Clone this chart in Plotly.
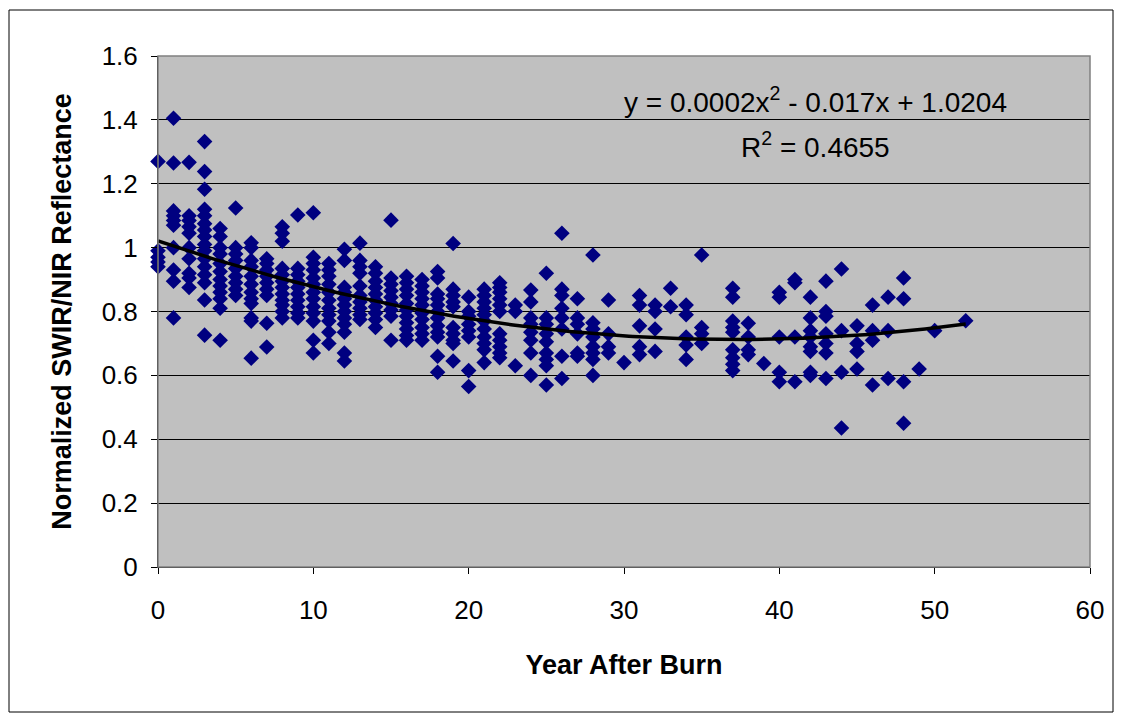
import numpy as np
import plotly.graph_objects as go

# Observations: year after burn -> normalized SWIR/NIR reflectance values
obs = {
    0: [1.27, 0.99, 0.97, 0.955, 0.94],
    1: [1.405, 1.265, 1.115, 1.10, 1.085, 1.07, 1.0, 0.93, 0.895, 0.78],
    2: [1.267, 1.10, 1.085, 1.065, 1.045, 1.0, 0.965, 0.92, 0.905, 0.875],
    3: [1.332, 1.238, 1.183, 1.12, 1.10, 1.075, 1.055, 1.035, 1.01, 0.99, 0.965, 0.94, 0.915, 0.89, 0.836, 0.726],
    4: [1.06, 1.035, 1.0, 0.98, 0.95, 0.925, 0.90, 0.88, 0.86, 0.84, 0.81, 0.71],
    5: [1.124, 1.0, 0.98, 0.96, 0.935, 0.91, 0.89, 0.87, 0.85],
    6: [1.015, 1.0, 0.96, 0.94, 0.91, 0.885, 0.86, 0.84, 0.825, 0.78, 0.77, 0.654],
    7: [0.965, 0.95, 0.93, 0.91, 0.89, 0.87, 0.85, 0.763, 0.689],
    8: [1.065, 1.045, 1.02, 0.935, 0.915, 0.895, 0.875, 0.855, 0.835, 0.82, 0.80, 0.78],
    9: [1.102, 0.935, 0.915, 0.895, 0.875, 0.855, 0.835, 0.815, 0.795, 0.78],
    10: [1.109, 0.97, 0.95, 0.93, 0.905, 0.885, 0.86, 0.84, 0.815, 0.795, 0.77, 0.71, 0.67],
    11: [0.95, 0.93, 0.91, 0.885, 0.86, 0.835, 0.81, 0.79, 0.77, 0.735, 0.70],
    12: [0.995, 0.96, 0.876, 0.86, 0.84, 0.82, 0.80, 0.78, 0.76, 0.735, 0.67, 0.645],
    13: [1.014, 0.96, 0.94, 0.92, 0.88, 0.85, 0.83, 0.81, 0.79, 0.775],
    14: [0.94, 0.92, 0.895, 0.875, 0.855, 0.835, 0.815, 0.795, 0.775, 0.75],
    15: [1.086, 0.905, 0.885, 0.865, 0.845, 0.825, 0.805, 0.785, 0.71],
    16: [0.91, 0.89, 0.87, 0.85, 0.825, 0.805, 0.785, 0.765, 0.745, 0.725, 0.71],
    17: [0.90, 0.88, 0.86, 0.84, 0.82, 0.795, 0.775, 0.75, 0.73, 0.71],
    18: [0.925, 0.905, 0.855, 0.84, 0.82, 0.80, 0.78, 0.755, 0.735, 0.72, 0.66, 0.61],
    19: [1.013, 0.87, 0.85, 0.83, 0.815, 0.75, 0.73, 0.71, 0.70, 0.645],
    20: [0.845, 0.80, 0.785, 0.76, 0.74, 0.72, 0.615, 0.565],
    21: [0.87, 0.85, 0.83, 0.81, 0.79, 0.77, 0.745, 0.72, 0.70, 0.68, 0.64],
    22: [0.89, 0.875, 0.86, 0.84, 0.82, 0.80, 0.73, 0.71, 0.69, 0.67, 0.655],
    23: [0.82, 0.80, 0.63],
    24: [0.867, 0.83, 0.78, 0.76, 0.735, 0.71, 0.67, 0.60],
    25: [0.92, 0.78, 0.76, 0.73, 0.705, 0.67, 0.65, 0.63, 0.57],
    26: [1.045, 0.87, 0.85, 0.81, 0.78, 0.745, 0.66, 0.59],
    27: [0.84, 0.78, 0.76, 0.73, 0.67, 0.66],
    28: [0.977, 0.765, 0.745, 0.72, 0.69, 0.67, 0.65, 0.60],
    29: [0.836, 0.73, 0.69, 0.67],
    30: [0.64],
    31: [0.85, 0.82, 0.755, 0.69, 0.665],
    32: [0.82, 0.80, 0.745, 0.675],
    33: [0.873, 0.815],
    34: [0.82, 0.79, 0.72, 0.695, 0.65],
    35: [0.977, 0.75, 0.73, 0.70],
    37: [0.873, 0.845, 0.77, 0.75, 0.735, 0.68, 0.655, 0.635, 0.615],
    38: [0.763, 0.72, 0.68, 0.665],
    39: [0.637],
    40: [0.86, 0.845, 0.72, 0.61, 0.58],
    41: [0.90, 0.89, 0.72, 0.58],
    42: [0.845, 0.78, 0.74, 0.72, 0.69, 0.675, 0.61, 0.60],
    43: [0.895, 0.80, 0.785, 0.73, 0.70, 0.67, 0.59],
    44: [0.933, 0.74, 0.61, 0.435],
    45: [0.755, 0.70, 0.675, 0.62],
    46: [0.82, 0.74, 0.71, 0.57],
    47: [0.845, 0.74, 0.59],
    48: [0.905, 0.84, 0.58, 0.45],
    49: [0.62],
    50: [0.74],
    52: [0.771],
}

years = [yr for yr, vals in obs.items() for _ in vals]
reflectance = [v for vals in obs.values() for v in vals]

x_ticks = [0, 10, 20, 30, 40, 50, 60]
y_ticks = [0, 0.2, 0.4, 0.6, 0.8, 1.0, 1.2, 1.4, 1.6]
equation_text = "y = 0.0002x<sup>2</sup> - 0.017x + 1.0204"
r2_text = "R<sup>2</sup> = 0.4655"

# Polynomial (order 2) trend line fitted to the observations
coef = np.polyfit(years, reflectance, 2)
xt = np.linspace(min(years), max(years), 200)
yt = np.polyval(coef, xt)

fig = go.Figure()
fig.add_trace(go.Scatter(
    x=years, y=reflectance, mode="markers", cliponaxis=False,
    marker=dict(symbol="diamond", size=12, color="#000080", line=dict(width=0)),
    showlegend=False, hoverinfo="x+y"))
fig.add_trace(go.Scatter(
    x=xt, y=yt, mode="lines", line=dict(color="black", width=3.5),
    showlegend=False, hoverinfo="skip"))

font = "Liberation Sans, Arial, sans-serif"
# Plot area in page pixels: x 158..1090, y 56..567 (page has 8px body offset)
fig.update_layout(
    width=1122, height=717,
    margin=dict(l=150, r=40, t=48, b=158),
    paper_bgcolor="white", plot_bgcolor="#C0C0C0",
    font=dict(family=font, size=26, color="black"),
    xaxis=dict(range=[0, 60], tickvals=x_ticks, showgrid=False, zeroline=False,
               showline=True, linecolor="black", linewidth=1,
               ticks="outside", ticklen=6, tickcolor="black", ticklabelstandoff=14,
               tickfont=dict(size=26),
               title=dict(text="<b>Year After Burn</b>", font=dict(size=27), standoff=30)),
    yaxis=dict(range=[0, 1.6], tickvals=y_ticks, showgrid=True, gridcolor="black", gridwidth=1,
               zeroline=False, showline=True, linecolor="black", linewidth=1,
               ticks="outside", ticklen=6, tickcolor="black", ticklabelstandoff=8,
               tickfont=dict(size=26),
               title=dict(text="<b>Normalized SWIR/NIR Reflectance</b>", font=dict(size=27), standoff=22)),
    shapes=[
        dict(type="rect", xref="paper", yref="paper", x0=0, x1=1, y0=0, y1=1,
             line=dict(color="#808080", width=1.5), layer="above"),
        dict(type="rect", xref="paper", yref="paper",
             x0=(9 - 158) / 932, x1=(1113 - 158) / 932,
             y0=(567 - 712) / 511, y1=(567 - 10) / 511,
             line=dict(color="black", width=1)),
    ],
    annotations=[
        dict(text=equation_text, x=(815 - 158) / 932, y=(567 - 100) / 511, xref="paper", yref="paper",
             showarrow=False, font=dict(size=28), xanchor="center", yanchor="middle"),
        dict(text=r2_text, x=(815 - 158) / 932, y=(567 - 145) / 511, xref="paper", yref="paper",
             showarrow=False, font=dict(size=28), xanchor="center", yanchor="middle"),
    ],
)

fig.write_html("out.html")
